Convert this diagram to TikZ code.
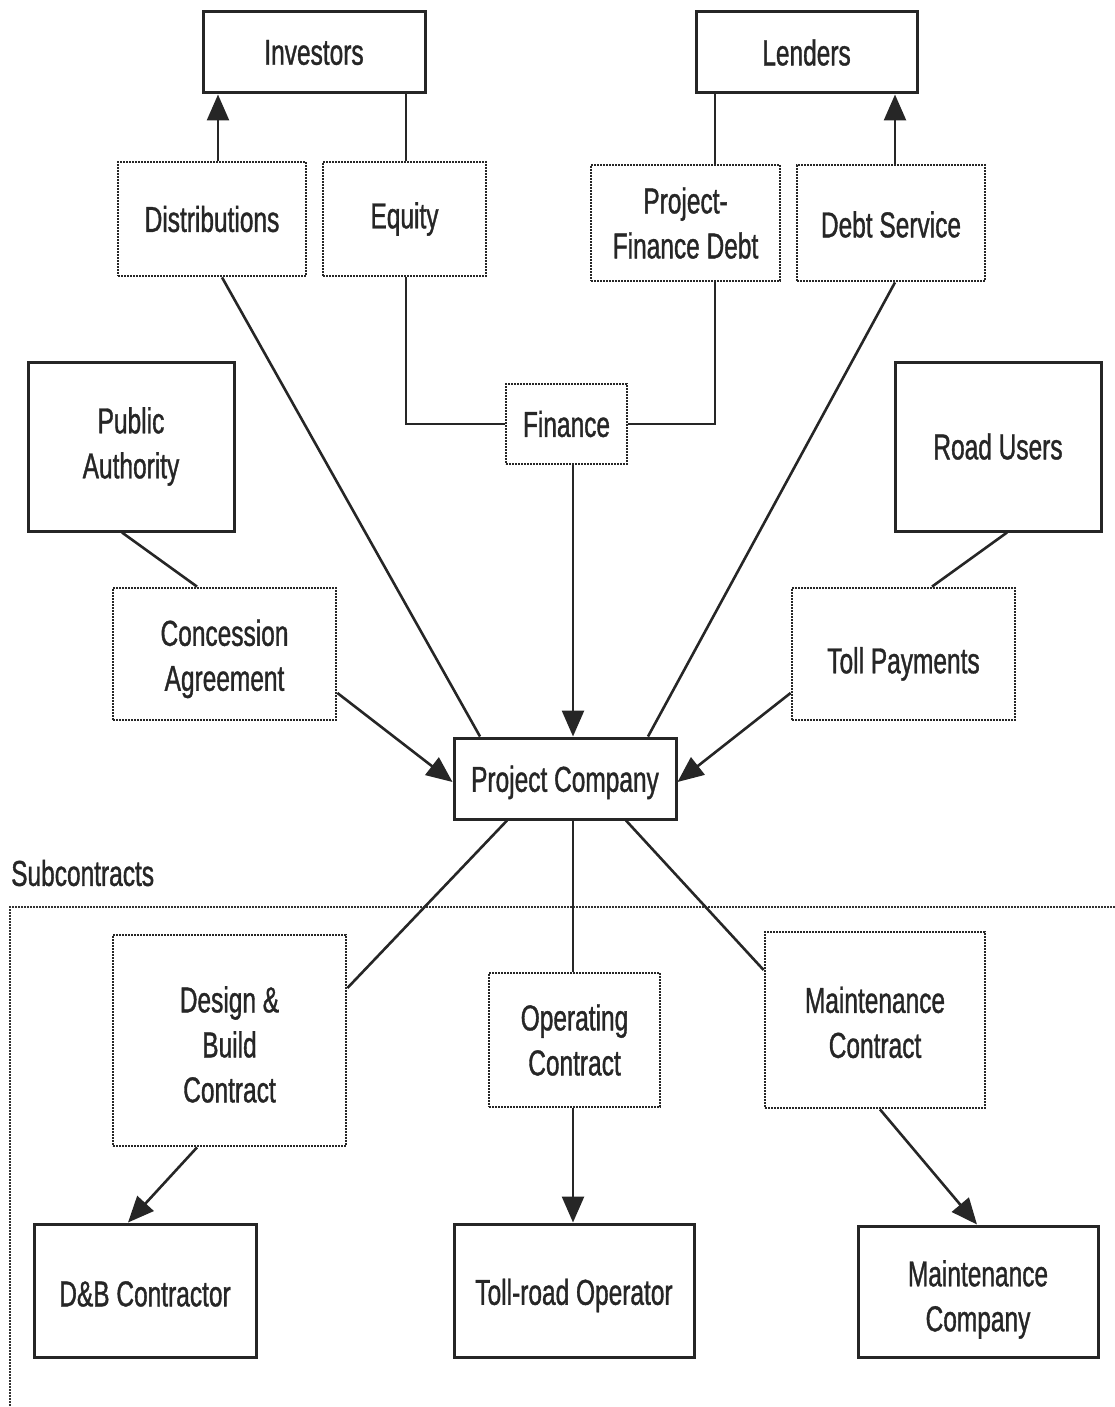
\documentclass[tikz,border=0pt]{standalone}
\usepackage{fontspec}
\setmainfont{Liberation Sans}[FakeStretch=0.68, FakeBold=1]
\usetikzlibrary{arrows.meta}
\begin{document}
\begin{tikzpicture}[x=1pt,y=-1pt,
  every node/.style={font=\fontsize{36}{45}\selectfont, text=black!85, align=center, inner sep=0pt},
  lower/.style={text height=#1},
  solidbox/.style={draw=black!85, line width=3pt, fill=white},
  dotbox/.style={draw=black!85, line width=2.8pt, dash pattern=on 2pt off 1pt, fill=white},
  link/.style={draw=black!85, line width=2.6pt},
  arr/.style={link, -{Triangle[length=26pt,width=22pt]}},
  frameline/.style={draw=black!80, line width=2.8pt, dash pattern=on 2pt off 1pt}]
\useasboundingbox (0,0) rectangle (1115,1407);

% subcontract frame
\node[anchor=west] (sub) at (11,873) {Subcontracts};
\coordinate (frtl) at (10,907);
\coordinate (frtr) at (1115,907);
\coordinate (frbl) at (10,1407);
\draw[frameline] (frtr) -- (frtl) -- (frbl);

% parties
\node[solidbox, minimum width=222, minimum height=81] (inv) at (314,52.5) {Investors};
\node[solidbox, minimum width=221, minimum height=81] (len) at (806.5,52.5) {Lenders};
\node[solidbox, minimum width=206, minimum height=169] (pa) at (131,446.5) {Public\\Authority};
\node[solidbox, minimum width=206, minimum height=169] (ru) at (998,446.5) {Road Users};
\node[solidbox, lower=34pt, minimum width=222, minimum height=81] (pc) at (565,778.5) {Project Company};
\node[solidbox, lower=32pt, minimum width=222, minimum height=133] (dbk) at (145,1290.5) {D\&B Contractor};
\node[solidbox, lower=36pt, minimum width=240, minimum height=133] (tro) at (574,1290.5) {Toll-road Operator};
\node[solidbox, lower=87pt, minimum width=240, minimum height=131] (mco) at (978,1291.5) {Maintenance\\Company};

% agreements and flows
\node[dotbox, minimum width=188, minimum height=114] (dist) at (212,219) {Distributions};
\node[dotbox, minimum width=163, minimum height=114] (eq) at (404.5,219) {Equity};
\node[dotbox, minimum width=189, minimum height=116] (pfd) at (685.5,223) {Project-\\Finance Debt};
\node[dotbox, lower=29pt, minimum width=188, minimum height=116] (ds) at (891,223) {Debt Service};
\node[dotbox, minimum width=121, minimum height=80] (fin) at (566.5,424) {Finance};
\node[dotbox, lower=81pt, minimum width=223, minimum height=132] (ca) at (224.5,654) {Concession\\Agreement};
\node[dotbox, lower=46pt, minimum width=223, minimum height=132] (tp) at (903.5,654) {Toll Payments};
\node[dotbox, lower=124pt, minimum width=233, minimum height=211] (dbc) at (229.5,1040.5) {Design \&\\Build\\Contract};
\node[dotbox, minimum width=171, minimum height=134] (oc) at (574.5,1040) {Operating\\Contract};
\node[dotbox, lower=76pt, minimum width=220, minimum height=176] (mc) at (875,1020) {Maintenance\\Contract};

% equity and debt
\draw[arr] (218,0 |- dist.north) -- (218,0 |- inv.south);
\draw[link] (406,0 |- eq.north) -- (406,0 |- inv.south);
\draw[link] (715,0 |- len.south) -- (715,0 |- pfd.north);
\draw[arr] (895,0 |- ds.north) -- (895,0 |- len.south);
\draw[link] (406,0 |- eq.south) |- (fin.west);
\draw[link] (715,0 |- pfd.south) |- (fin.east);
\draw[arr] (573,0 |- fin.south) -- (573,0 |- pc.north);
\draw[link] (222,0 |- dist.south) -- (480,0 |- pc.north);
\draw[link] (895,0 |- ds.south) -- (648,0 |- pc.north);

% concession and tolls
\draw[link] (122,0 |- pa.south) -- (197,0 |- ca.north);
\draw[link] (1007,0 |- ru.south) -- (932,0 |- tp.north);
\draw[arr] (ca.east |- 0,693) -- (pc.west |- 0,782);
\draw[arr] (tp.west |- 0,693) -- (pc.east |- 0,782);

% subcontracts
\draw[link] (507,0 |- pc.south) -- (dbc.east |- 0,988);
\draw[link] (573,0 |- pc.south) -- (573,0 |- oc.north);
\draw[link] (626,0 |- pc.south) -- (mc.west |- 0,970);
\draw[arr] (197,0 |- dbc.south) -- (128,0 |- dbk.north);
\draw[arr] (573,0 |- oc.south) -- (573,0 |- tro.north);
\draw[arr] (880,0 |- mc.south) -- (977,0 |- mco.north);
\end{tikzpicture}
\end{document}
